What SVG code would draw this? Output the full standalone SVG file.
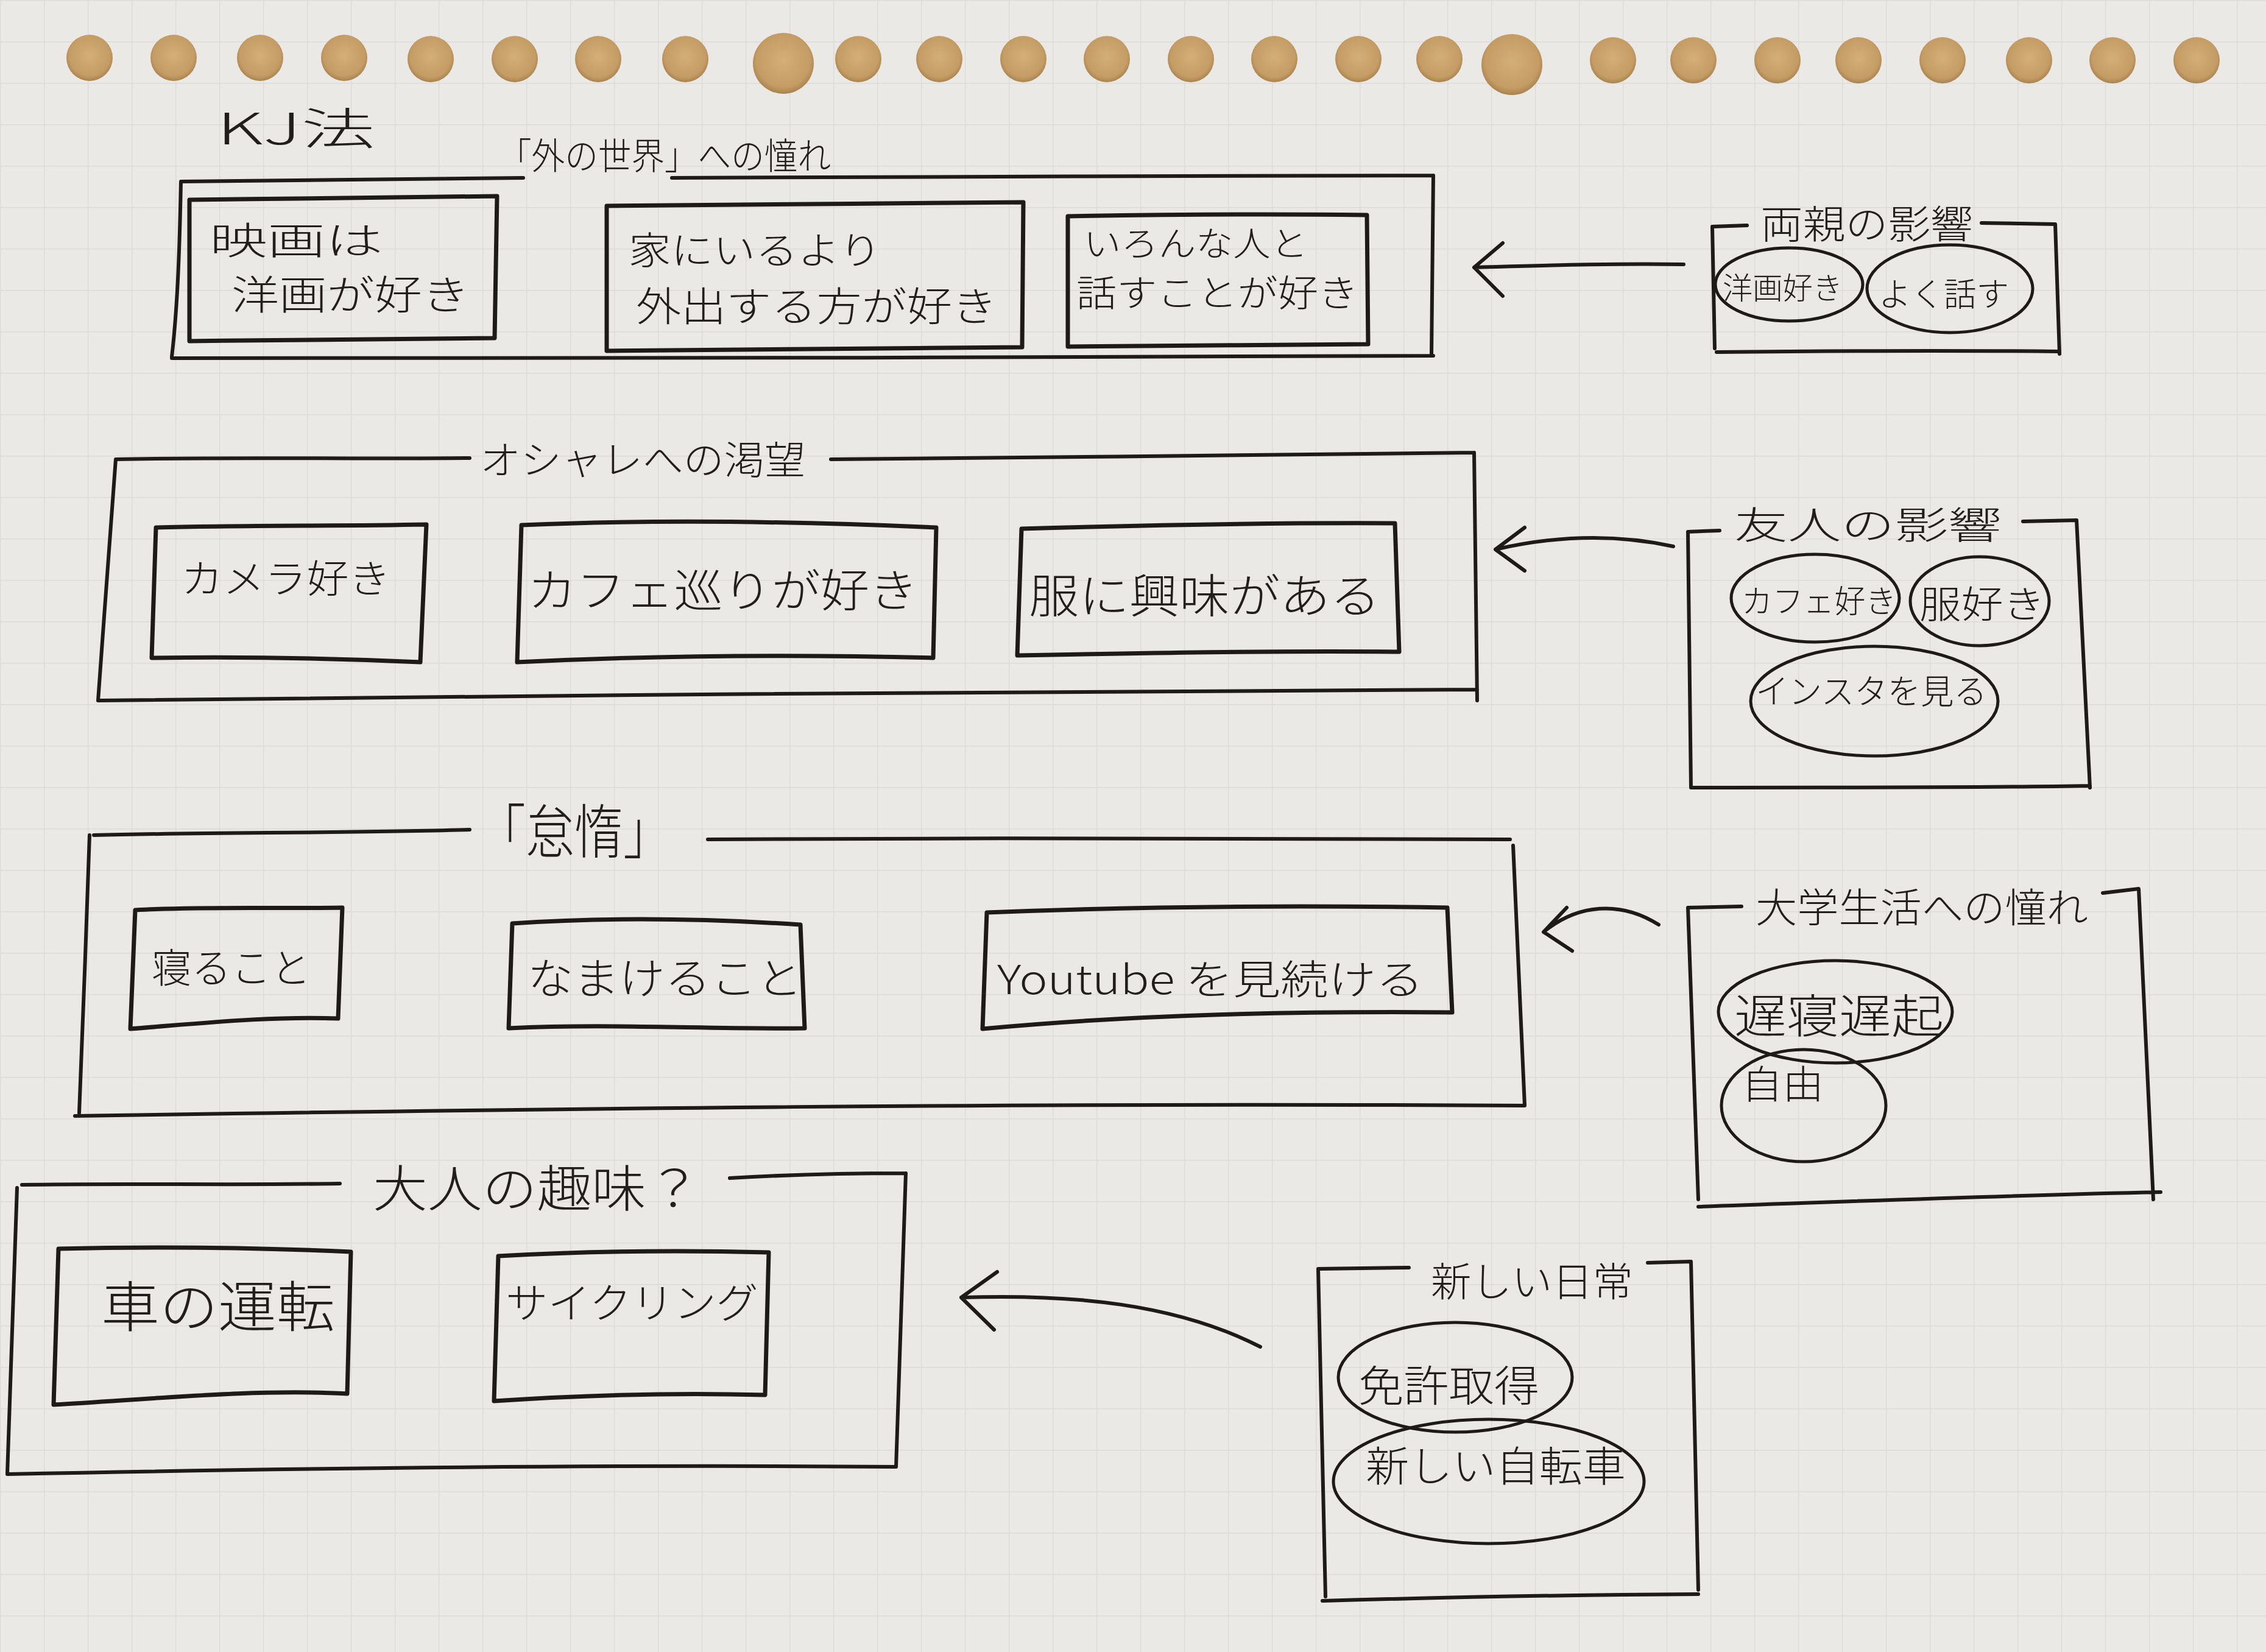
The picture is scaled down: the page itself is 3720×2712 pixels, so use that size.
<svg xmlns="http://www.w3.org/2000/svg" width="3720" height="2712" viewBox="0 0 3720 2712">
<defs>
<pattern id="grid" width="72" height="68" patternUnits="userSpaceOnUse">
<path d="M0,0.5 H72 M0.5,0 V68" fill="none" stroke="#dcdbd7" stroke-width="2"/>
</pattern>
<radialGradient id="hole" cx="50%" cy="45%" r="55%">
<stop offset="0" stop-color="#d4ae78"/>
<stop offset="0.8" stop-color="#c49c64"/>
<stop offset="1" stop-color="#a8834f"/>
</radialGradient>
</defs>
<style>
.ln{fill:none;stroke:#1d1a17;stroke-width:6;stroke-linecap:round;stroke-linejoin:round}
.cd{fill:none;stroke:#1d1a17;stroke-width:7;stroke-linecap:round;stroke-linejoin:round}
.el{fill:none;stroke:#1d1a17;stroke-width:5}
.t{font-family:"Noto Sans CJK JP","Noto Sans CJK SC",sans-serif;fill:#221f1b;font-weight:300}
.h{fill:url(#hole)}
</style>
<rect width="3720" height="2712" fill="#eae9e5"/>
<rect width="3720" height="2712" fill="url(#grid)"/>
<g id="holes">
<circle class="h" cx="147" cy="95" r="38"/><circle class="h" cx="285" cy="95" r="38"/><circle class="h" cx="427" cy="95" r="38"/><circle class="h" cx="565" cy="95" r="38"/><circle class="h" cx="707" cy="97" r="38"/><circle class="h" cx="845" cy="97" r="38"/><circle class="h" cx="982" cy="97" r="38"/><circle class="h" cx="1125" cy="97" r="38"/><circle class="h" cx="1286" cy="104" r="50"/><circle class="h" cx="1409" cy="97" r="38"/><circle class="h" cx="1542" cy="97" r="38"/><circle class="h" cx="1680" cy="97" r="38"/><circle class="h" cx="1817" cy="97" r="38"/><circle class="h" cx="1955" cy="97" r="38"/><circle class="h" cx="2092" cy="97" r="38"/><circle class="h" cx="2230" cy="97" r="38"/><circle class="h" cx="2363" cy="97" r="38"/><circle class="h" cx="2482" cy="106" r="50"/><circle class="h" cx="2648" cy="99" r="38"/><circle class="h" cx="2780" cy="99" r="38"/><circle class="h" cx="2918" cy="99" r="38"/><circle class="h" cx="3051" cy="99" r="38"/><circle class="h" cx="3189" cy="99" r="38"/><circle class="h" cx="3331" cy="99" r="38"/><circle class="h" cx="3468" cy="99" r="38"/><circle class="h" cx="3606" cy="99" r="38"/>
</g>
<text id="page-title" class="t" x="356" y="237" font-size="72" textLength="260" lengthAdjust="spacingAndGlyphs">KJ法</text>

<g id="cluster-outside">
<path class="ln" d="M297,298 C480,296 680,294 859,292 M1103,292 C1500,290 1950,289 2353,288 M297,298 C295,400 292,500 282,586 M282,588 C900,590 1700,586 2353,584 M2353,288 L2350,584"/>
<text class="t" x="818" y="278" font-size="60" textLength="546" lengthAdjust="spacingAndGlyphs">「外の世界」への憧れ</text>
<g id="card-movie">
<path class="cd" d="M311,328 C480,326 650,324 816,322 L812,555 C650,556 480,558 311,560 Z"/>
<text class="t" x="344" y="418" font-size="62" textLength="285" lengthAdjust="spacingAndGlyphs">映画は</text>
<text class="t" x="380" y="508" font-size="66" textLength="391" lengthAdjust="spacingAndGlyphs">洋画が好き</text>
</g>
<g id="card-out">
<path class="cd" d="M996,338 C1230,336 1450,334 1680,332 L1678,570 C1450,572 1220,574 996,576 Z"/>
<text class="t" x="1032" y="434" font-size="62" textLength="415" lengthAdjust="spacingAndGlyphs">家にいるより</text>
<text class="t" x="1044" y="527" font-size="66" textLength="593" lengthAdjust="spacingAndGlyphs">外出する方が好き</text>
</g>
<g id="card-talk">
<path class="cd" d="M1753,355 C1920,352 2080,351 2244,353 L2246,565 C2080,566 1920,568 1753,569 Z"/>
<text class="t" x="1779" y="420" font-size="56" textLength="368" lengthAdjust="spacingAndGlyphs">いろんな人と</text>
<text class="t" x="1767" y="503" font-size="60" textLength="463" lengthAdjust="spacingAndGlyphs">話すことが好き</text>
</g>
</g>

<g id="cluster-parents">
<path class="ln" d="M2811,372 L2868,370 M3253,366 L3374,368 L3381,581 M2818,578 C3000,576 3200,575 3381,577 M2811,372 L2815,572"/>
<text class="t" x="2890" y="391" font-size="64" textLength="349" lengthAdjust="spacingAndGlyphs">両親の影響</text>
<g id="oval-yoga"><ellipse class="el" cx="2937" cy="467" rx="121" ry="60"/>
<text class="t" x="2828" y="491" font-size="50" textLength="197" lengthAdjust="spacingAndGlyphs">洋画好き</text></g>
<g id="oval-talk"><ellipse class="el" cx="3201" cy="474" rx="136" ry="72"/>
<text class="t" x="3084" y="503" font-size="54" textLength="214" lengthAdjust="spacingAndGlyphs">よく話す</text></g>
</g>

<g id="cluster-fashion">
<path class="ln" d="M190,754 C380,750 580,754 771,752 M1364,754 C1700,750 2100,748 2420,743 M190,754 C180,900 170,1020 161,1150 M161,1150 C900,1140 1700,1136 2425,1132 M2420,743 L2425,1150"/>
<text class="t" x="788" y="778" font-size="64" textLength="534" lengthAdjust="spacingAndGlyphs">オシャレへの渇望</text>
<g id="card-camera">
<path class="cd" d="M256,866 C400,862 550,864 700,861 L690,1087 C540,1080 400,1078 249,1080 Z"/>
<text class="t" x="297" y="973" font-size="64" textLength="344" lengthAdjust="spacingAndGlyphs">カメラ好き</text>
</g>
<g id="card-cafe">
<path class="cd" d="M856,862 C1080,852 1310,856 1537,866 L1532,1080 C1300,1074 1080,1076 849,1087 Z"/>
<text class="t" x="866" y="996" font-size="74" textLength="641" lengthAdjust="spacingAndGlyphs">カフェ巡りが好き</text>
</g>
<g id="card-clothes">
<path class="cd" d="M1677,868 C1880,862 2090,858 2290,859 L2297,1070 C2090,1068 1880,1072 1670,1076 Z"/>
<text class="t" x="1689" y="1006" font-size="76" textLength="577" lengthAdjust="spacingAndGlyphs">服に興味がある</text>
</g>
</g>

<g id="cluster-friends">
<path class="ln" d="M2771,873 L2823,871 M3321,856 L3409,854 L3431,1293 M2776,1293 C3000,1292 3200,1294 3431,1290 M2771,873 L2776,1293"/>
<text class="t" x="2847" y="885" font-size="62" textLength="439" lengthAdjust="spacingAndGlyphs">友人の影響</text>
<g id="oval-cafe"><ellipse class="el" cx="2980" cy="982" rx="138" ry="72"/>
<text class="t" x="2859" y="1006" font-size="52" textLength="254" lengthAdjust="spacingAndGlyphs">カフェ好き</text></g>
<g id="oval-clothes"><ellipse class="el" cx="3250" cy="987" rx="114" ry="73"/>
<text class="t" x="3151" y="1015" font-size="62" textLength="206" lengthAdjust="spacingAndGlyphs">服好き</text></g>
<g id="oval-insta"><ellipse class="el" cx="3077" cy="1151" rx="203" ry="90"/>
<text class="t" x="2882" y="1155" font-size="56" textLength="380" lengthAdjust="spacingAndGlyphs">インスタを見る</text></g>
</g>

<g id="cluster-lazy">
<path class="ln" d="M154,1371 C360,1366 560,1368 771,1362 M1162,1378 C1600,1374 2050,1378 2479,1378 M147,1371 C142,1520 136,1680 130,1827 M123,1832 C900,1820 1700,1810 2503,1815 M2484,1388 L2503,1815"/>
<text class="t" x="783" y="1400" font-size="96" textLength="320" lengthAdjust="spacingAndGlyphs">「怠惰」</text>
<g id="card-sleep">
<path class="cd" d="M222,1494 C330,1488 450,1492 562,1490 L555,1672 C440,1668 330,1680 214,1689 Z"/>
<text class="t" x="249" y="1613" font-size="66" textLength="261" lengthAdjust="spacingAndGlyphs">寝ること</text>
</g>
<g id="card-idle">
<path class="cd" d="M841,1516 C1000,1505 1160,1508 1314,1518 L1321,1688 C1160,1690 1000,1680 835,1688 Z"/>
<text class="t" x="866" y="1632" font-size="70" textLength="451" lengthAdjust="spacingAndGlyphs">なまけること</text>
</g>
<g id="card-youtube">
<path class="cd" d="M1620,1498 C1870,1488 2130,1486 2376,1490 L2384,1662 C2130,1660 1870,1665 1613,1689 Z"/>
<text class="t" x="1637" y="1632" font-size="66" textLength="700" lengthAdjust="spacingAndGlyphs">Youtube を見続ける</text>
</g>
</g>

<g id="cluster-college">
<path class="ln" d="M2771,1490 L2859,1488 M3452,1466 L3511,1459 L3535,1969 M2788,1981 C3050,1972 3300,1962 3547,1957 M2771,1490 L2788,1969"/>
<text class="t" x="2882" y="1514" font-size="66" textLength="546" lengthAdjust="spacingAndGlyphs">大学生活への憧れ</text>
<g id="oval-late"><ellipse class="el" cx="3013" cy="1661" rx="192" ry="84"/>
<text class="t" x="2847" y="1696" font-size="76" textLength="344" lengthAdjust="spacingAndGlyphs">遅寝遅起</text></g>
<g id="oval-free"><ellipse class="el" cx="2961" cy="1815" rx="135" ry="92"/>
<text class="t" x="2859" y="1803" font-size="64" textLength="135" lengthAdjust="spacingAndGlyphs">自由</text></g>
</g>

<g id="cluster-adult">
<path class="ln" d="M36,1945 C200,1942 380,1946 558,1943 M1198,1934 C1300,1928 1400,1926 1487,1926 M28,1950 C22,2100 16,2260 12,2420 M12,2420 C500,2410 1000,2404 1471,2408 M1487,1926 L1471,2408"/>
<text class="t" x="612" y="1981" font-size="82" textLength="539" lengthAdjust="spacingAndGlyphs">大人の趣味？</text>
<g id="card-drive">
<path class="cd" d="M96,2050 C260,2046 420,2048 576,2055 L570,2288 C420,2280 260,2296 88,2306 Z"/>
<text class="t" x="166" y="2178" font-size="90" textLength="384" lengthAdjust="spacingAndGlyphs">車の運転</text>
</g>
<g id="card-cycle">
<path class="cd" d="M818,2062 C960,2054 1110,2052 1262,2056 L1256,2290 C1110,2286 960,2290 811,2300 Z"/>
<text class="t" x="830" y="2164" font-size="68" textLength="415" lengthAdjust="spacingAndGlyphs">サイクリング</text>
</g>
</g>

<g id="cluster-newlife">
<path class="ln" d="M2164,2083 L2313,2081 M2705,2073 L2776,2071 L2788,2610 M2171,2628 C2380,2622 2580,2618 2788,2617 M2164,2083 L2176,2621"/>
<text class="t" x="2349" y="2128" font-size="66" textLength="332" lengthAdjust="spacingAndGlyphs">新しい日常</text>
<g id="oval-license"><ellipse class="el" cx="2389" cy="2261" rx="192" ry="90"/>
<text class="t" x="2230" y="2301" font-size="70" textLength="297" lengthAdjust="spacingAndGlyphs">免許取得</text></g>
<g id="oval-bike"><ellipse class="el" cx="2444" cy="2432" rx="255" ry="102"/>
<text class="t" x="2242" y="2432" font-size="68" textLength="427" lengthAdjust="spacingAndGlyphs">新しい自転車</text></g>
</g>

<g id="connectors">
<path class="ln" d="M2764,434 C2650,432 2530,436 2420,439 M2467,399 L2420,439 L2467,486"/>
<path class="ln" d="M2747,897 C2650,876 2550,880 2455,902 M2503,866 L2455,902 L2503,937"/>
<path class="ln" d="M2723,1518 C2660,1478 2590,1484 2534,1530 M2572,1490 L2534,1530 L2581,1561"/>
<path class="ln" d="M2069,2211 C1930,2140 1760,2124 1578,2130 M1637,2088 L1578,2130 L1632,2183"/>
</g>
</svg>
